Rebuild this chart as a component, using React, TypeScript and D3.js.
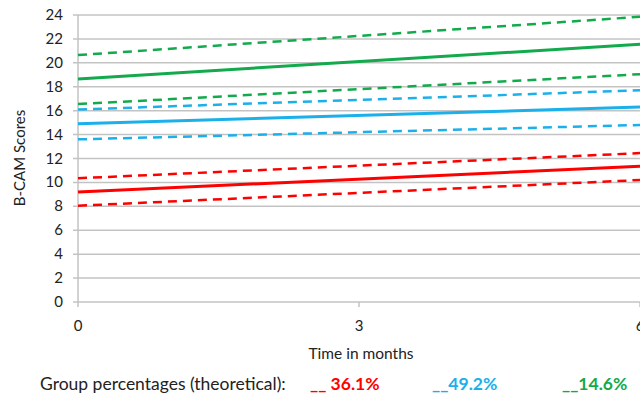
import React, { useRef, useEffect } from "react";
import * as d3 from "d3";

// time points (months) and estimated scores at start / end
const months = [0, 6];
const xTicks = [0, 3, 6];
const yTicks = [0, 2, 4, 6, 8, 10, 12, 14, 16, 18, 20, 22, 24];

const redMean = [9.2, 11.35];
const redUpper = [10.35, 12.45];
const redLower = [8.05, 10.2];
const blueMean = [14.9, 16.3];
const blueUpper = [16.1, 17.7];
const blueLower = [13.6, 14.8];
const greenMean = [18.65, 21.55];
const greenUpper = [20.65, 23.85];
const greenLower = [16.55, 19.05];

const groupLabels = ["__ 36.1%", "__49.2%", "__14.6%"];
const groupColors = ["#ff0000", "#1cb0ea", "#12aa4c"];

const App = () => {
  const svgRef = useRef(null);

  useEffect(() => {
    const svg = d3.select(svgRef.current);
    svg.selectAll("*").remove();

    const width = 640;
    const height = 396;
    const font = "Lato, 'Open Sans', sans-serif";
    svg.attr("width", width).attr("height", height);

    const xScale = d3.scaleLinear().domain([0, 6]).range([78, 640]);
    const yScale = d3.scaleLinear().domain([0, 24]).range([302, 15]);

    // grid lines
    svg
      .append("g")
      .selectAll("line")
      .data(yTicks)
      .enter()
      .append("line")
      .attr("x1", 73)
      .attr("x2", width)
      .attr("y1", (d) => yScale(d))
      .attr("y2", (d) => yScale(d))
      .attr("stroke", "#c3c3c3")
      .attr("stroke-width", 1.5);

    // y axis line
    svg
      .append("line")
      .attr("x1", xScale(0))
      .attr("x2", xScale(0))
      .attr("y1", yScale(24))
      .attr("y2", yScale(0))
      .attr("stroke", "#c3c3c3")
      .attr("stroke-width", 1.5);

    // x ticks
    svg
      .append("g")
      .selectAll("line")
      .data(xTicks)
      .enter()
      .append("line")
      .attr("x1", (d) => xScale(d))
      .attr("x2", (d) => xScale(d))
      .attr("y1", yScale(0))
      .attr("y2", yScale(0) + 5)
      .attr("stroke", "#c3c3c3")
      .attr("stroke-width", 1.5);

    svg
      .append("g")
      .selectAll("text")
      .data(yTicks)
      .enter()
      .append("text")
      .attr("x", 63)
      .attr("y", (d) => yScale(d) + 5)
      .attr("text-anchor", "end")
      .attr("font-family", font)
      .attr("font-size", 15)
      .attr("fill", "#222")
      .text((d) => d);

    svg
      .append("g")
      .selectAll("text")
      .data(xTicks)
      .enter()
      .append("text")
      .attr("x", (d) => xScale(d))
      .attr("y", 331)
      .attr("text-anchor", "middle")
      .attr("font-family", font)
      .attr("font-size", 15)
      .attr("fill", "#222")
      .text((d) => d);

    // axis titles
    svg
      .append("text")
      .attr("transform", `translate(25, 158) rotate(-90)`)
      .attr("text-anchor", "middle")
      .attr("font-family", font)
      .attr("font-size", 15)
      .attr("fill", "#222")
      .text("B-CAM Scores");

    svg
      .append("text")
      .attr("x", 361)
      .attr("y", 359)
      .attr("text-anchor", "middle")
      .attr("font-family", font)
      .attr("font-size", 15.5)
      .attr("fill", "#222")
      .text("Time in months");

    // trajectory lines
    const line = d3
      .line<number>()
      .x((d, i) => xScale(months[i]))
      .y((d) => yScale(d));

    const series = [
      { v: greenUpper, c: groupColors[2], dash: true },
      { v: greenMean, c: groupColors[2], dash: false },
      { v: greenLower, c: groupColors[2], dash: true },
      { v: blueUpper, c: groupColors[1], dash: true },
      { v: blueMean, c: groupColors[1], dash: false },
      { v: blueLower, c: groupColors[1], dash: true },
      { v: redUpper, c: groupColors[0], dash: true },
      { v: redMean, c: groupColors[0], dash: false },
      { v: redLower, c: groupColors[0], dash: true },
    ];

    svg
      .append("g")
      .selectAll("path")
      .data(series)
      .enter()
      .append("path")
      .attr("d", (d) => line(d.v))
      .attr("fill", "none")
      .attr("stroke", (d) => d.c)
      .attr("stroke-width", (d) => (d.dash ? 2.5 : 3))
      .attr("stroke-dasharray", (d) => (d.dash ? "9,6" : null));

    // group percentages legend
    svg
      .append("text")
      .attr("x", 40)
      .attr("y", 390)
      .attr("font-family", font)
      .attr("font-size", 17.5)
      .attr("fill", "#222")
      .text("Group percentages (theoretical):");

    const legendX = [310, 432, 562];
    svg
      .append("g")
      .selectAll("text")
      .data(groupLabels)
      .enter()
      .append("text")
      .attr("x", (d, i) => legendX[i])
      .attr("y", 390)
      .attr("font-family", font)
      .attr("font-size", 17.5)
      .attr("font-weight", "bold")
      .attr("fill", (d, i) => groupColors[i])
      .text((d) => d);
  }, []);

  return (
    <svg
      ref={svgRef}
      style={{ position: "absolute", left: 0, top: 0, background: "#fff" }}
    />
  );
};

export default App;
